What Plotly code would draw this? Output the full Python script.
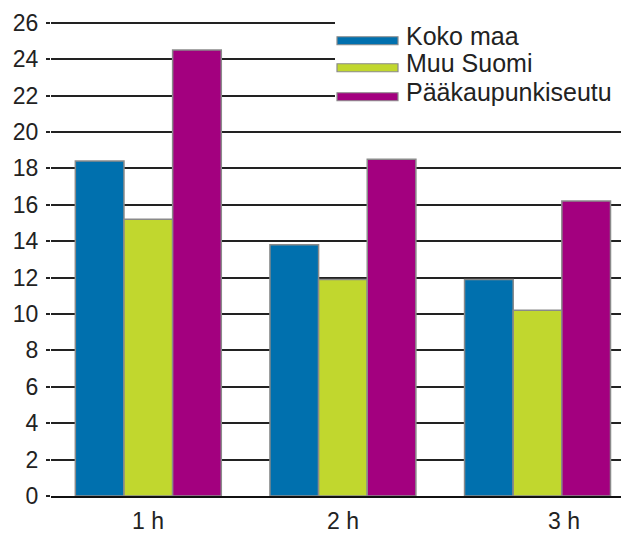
import plotly.graph_objects as go

categories = ["1 h", "2 h", "3 h"]
series_names = ["Koko maa", "Muu Suomi", "Pääkaupunkiseutu"]
koko_maa = [18.4, 13.8, 11.9]
muu_suomi = [15.2, 11.9, 10.2]
paakaupunkiseutu = [24.5, 18.5, 16.2]
y_ticks = list(range(0, 27, 2))

colors = ["#0070ae", "#c1d72e", "#a3007f"]
values = [koko_maa, muu_suomi, paakaupunkiseutu]

# page body has an 8px default margin; work in screenshot pixels and subtract it
OFF = 8
YMAX = 26.15
W, H = 629 - OFF, 536 - OFF
PB = 496
PT = PB - (PB - 23) * YMAX / 26.0   # so that 26 sits at y=23
PL, PR = 51, 629
ML, MR, MT, MB = PL - OFF, 629 - PR, PT - OFF, 536 - PB
FONT = "Arial, Liberation Sans, sans-serif"
FS = 23
FS_LEG = 25

fig = go.Figure()
for name, vals, col in zip(series_names, values, colors):
    fig.add_trace(go.Bar(
        x=categories, y=vals, name=name, showlegend=False,
        marker=dict(color=col, line=dict(color="#8a8a8a", width=1.5)),
    ))

def px_x(p):
    return (p - PL) / (PR - PL)

def px_y(p):
    return 1 - (p - PT) / (PB - PT)

shapes = []
annotations = []
shapes.append(dict(type="rect", xref="paper", yref="paper",
                   x0=px_x(335), x1=px_x(624), y0=px_y(112), y1=px_y(14),
                   fillcolor="white", line=dict(width=0), layer="above"))
row_y = [41, 68, 97]
for name, col, ry in zip(series_names, colors, row_y):
    shapes.append(dict(type="rect", xref="paper", yref="paper",
                       x0=px_x(337), x1=px_x(398), y0=px_y(ry + 4), y1=px_y(ry - 4),
                       fillcolor=col, line=dict(color="#8a8a8a", width=1.2), layer="above"))
    annotations.append(dict(xref="paper", yref="paper", x=px_x(404), y=px_y(ry - 5),
                            text=name, showarrow=False, xanchor="left", yanchor="middle",
                            font=dict(family=FONT, size=FS_LEG, color="#222")))

label_shift = [0, 0, 26]
for cat, sh in zip(categories, label_shift):
    annotations.append(dict(xref="x", yref="paper", x=cat, y=0, yshift=-10, xshift=sh,
                            text=cat, showarrow=False, xanchor="center", yanchor="top",
                            font=dict(family=FONT, size=FS, color="#222")))

fig.update_layout(
    width=W, height=H,
    margin=dict(l=ML, r=MR, t=MT, b=MB, pad=0),
    paper_bgcolor="white", plot_bgcolor="white",
    barmode="group", bargap=0.25, bargroupgap=0,
    font=dict(family=FONT, size=FS, color="#222"),
    xaxis=dict(type="category", range=[-0.5, 2.47], showticklabels=False,
               showgrid=False, showline=True, linecolor="#111", linewidth=2,
               ticks="", fixedrange=True),
    yaxis=dict(range=[0, YMAX], tickvals=y_ticks, showgrid=True, gridcolor="#222",
               gridwidth=2, zeroline=False, ticks="outside", ticklen=4,
               tickcolor="#222", tickwidth=2, ticklabelstandoff=3,
               tickfont=dict(family=FONT, size=FS, color="#222")),
    shapes=shapes, annotations=annotations,
)

fig.write_html("out.html")
